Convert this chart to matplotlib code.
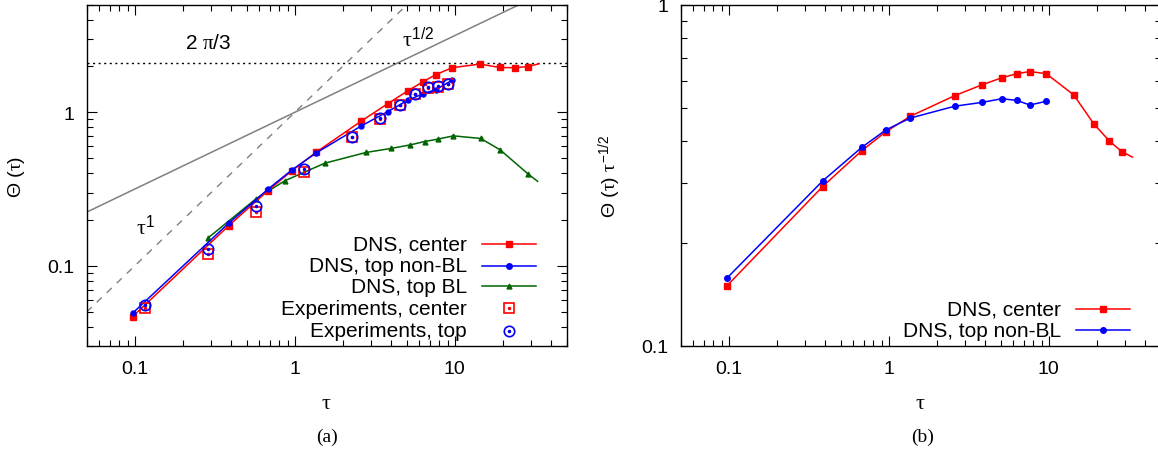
import numpy as np
import matplotlib
matplotlib.use("Agg")
import matplotlib.pyplot as plt
from matplotlib.ticker import LogLocator, FuncFormatter, NullFormatter

plt.rcParams['font.family'] = ['Liberation Sans', 'DejaVu Sans']
plt.rcParams['mathtext.fontset'] = 'custom'
plt.rcParams['mathtext.rm'] = 'Liberation Sans'
plt.rcParams['mathtext.it'] = 'Liberation Serif'
plt.rcParams['mathtext.bf'] = 'Liberation Sans:bold'

# DNS, center (last point is the curve end, no marker)
tau_center = [0.097, 0.385, 0.678, 0.958, 1.36, 2.58, 3.81, 5.08, 6.31, 7.6, 9.62,
              14.3, 19.1, 23.9, 28.7, 33.3]
theta_center = [0.0467, 0.182, 0.308, 0.416, 0.550, 0.871, 1.138, 1.379, 1.580, 1.759,
                1.951, 2.061, 1.958, 1.951, 1.987, 2.066]

# DNS, top non-BL
tau_top = [0.097, 0.385, 0.678, 0.958, 1.36, 2.58, 3.81, 5.08, 6.31, 7.6, 9.62]
theta_top = [0.0492, 0.189, 0.315, 0.421, 0.5435, 0.811, 1.011, 1.197, 1.319, 1.403, 1.619]

# DNS, top BL (last point is the curve end, no marker)
tau_bl = [0.285, 0.571, 0.866, 1.54, 2.78, 3.98, 5.26, 6.49, 7.8, 9.8, 14.5, 19.2, 28.7, 32.9]
theta_bl = [0.151, 0.273, 0.358, 0.466, 0.547, 0.581, 0.613, 0.645, 0.668, 0.702, 0.675,
            0.569, 0.396, 0.355]

# Experiments
tau_exp = [0.1155, 0.285, 0.571, 1.14, 2.27, 3.40, 4.53, 5.65, 6.75, 7.86, 9.08]
theta_exp_center = [0.0531, 0.1197, 0.2253, 0.4095, 0.691, 0.910, 1.11, 1.31, 1.446, 1.469, 1.52]
theta_exp_top = [0.0552, 0.129, 0.244, 0.4266, 0.695, 0.921, 1.118, 1.318, 1.464, 1.486, 1.53]

labels_a = ['DNS, center', 'DNS, top non-BL', 'DNS, top BL',
            'Experiments, center', 'Experiments, top']
labels_b = ['DNS, center', 'DNS, top non-BL']

tau_ref = np.array([0.05, 50.0])

RED = '#ff0000'
BLUE = '#0000ff'
GREEN = '#006400'
GREY = '#808080'

W, H = 1158, 452
fig = plt.figure(figsize=(W / 100, H / 100), dpi=100)
axa = fig.add_axes([86.7 / W, 105 / H, 480 / W, 341 / H])
axb = fig.add_axes([680.7 / W, 105 / H, 480 / W, 341 / H])


def style(ax):
    ax.set_xscale('log')
    ax.set_yscale('log')
    ax.xaxis.set_major_locator(LogLocator(base=10))
    ax.yaxis.set_major_locator(LogLocator(base=10))
    ax.xaxis.set_minor_locator(LogLocator(base=10, subs=np.arange(2, 10)))
    ax.yaxis.set_minor_locator(LogLocator(base=10, subs=np.arange(2, 10)))
    fmt = FuncFormatter(lambda v, p: '%g' % v)
    ax.xaxis.set_major_formatter(fmt)
    ax.yaxis.set_major_formatter(fmt)
    ax.xaxis.set_minor_formatter(NullFormatter())
    ax.yaxis.set_minor_formatter(NullFormatter())
    ax.tick_params(which='both', direction='in', top=True, right=True, labelsize=14,
                   width=0.8)
    ax.tick_params(which='major', length=7)
    ax.tick_params(which='minor', length=4)
    ax.tick_params(axis='x', pad=10)
    ax.tick_params(axis='y', pad=9)
    for s in ax.spines.values():
        s.set_linewidth(1.0)


def legend_row(ax, y, label, styles):
    # gnuplot-like key: right-aligned text, sample on the right
    ax.text(0.792, y, label, transform=ax.transAxes, fontsize=15,
            ha='right', va='center')
    for st in styles:
        if st.get('ls', '-') != 'none':
            ax.plot([0.823, 0.935], [y, y], transform=ax.transAxes, clip_on=False,
                    color=st['color'], lw=1.1)
        kw = {k: v for k, v in st.items() if k not in ('ls', 'color')}
        ax.plot([0.879], [y], transform=ax.transAxes, clip_on=False, ls='none',
                color=st['color'], **kw)


st_c = dict(color=RED, marker='s', ms=4.5)
st_t = dict(color=BLUE, marker='o', ms=4)
st_bl = dict(color=GREEN, marker='^', ms=3.5)
st_ec = [dict(color=RED, ls='none', marker='s', ms=7.5, mfc='none', mec=RED, mew=1.2),
         dict(color=RED, ls='none', marker='o', ms=1.5)]
st_et = [dict(color=BLUE, ls='none', marker='o', ms=7.5, mfc='none', mec=BLUE, mew=1.2),
         dict(color=BLUE, ls='none', marker='o', ms=1.5)]

# ---- (a)
ax = axa
style(ax)
ax.plot(tau_ref, tau_ref, color=GREY, lw=1.0, ls=(0, (5, 5)))
ax.plot(tau_ref, np.sqrt(tau_ref), color=GREY, lw=1.1)
ax.axhline(2 * np.pi / 3, color='black', lw=1.0, ls=(0, (1.5, 2.5)))

ax.plot(tau_bl, theta_bl, color=GREEN, lw=1.1, marker='^', ms=3.5,
        markevery=list(range(len(tau_bl) - 1)))
ax.plot(tau_center, theta_center, color=RED, lw=1.1, marker='s', ms=4,
        markevery=list(range(len(tau_center) - 1)))
ax.plot(tau_top, theta_top, color=BLUE, lw=1.1, marker='o', ms=3.6)
ax.plot(tau_exp, theta_exp_center, ls='none', marker='s', ms=7.5, mfc='none',
        mec=RED, mew=1.2)
ax.plot(tau_exp, theta_exp_center, ls='none', marker='o', ms=1.5, color=RED)
ax.plot(tau_exp, theta_exp_top, ls='none', marker='o', ms=7.5, mfc='none',
        mec=BLUE, mew=1.2)
ax.plot(tau_exp, theta_exp_top, ls='none', marker='o', ms=1.5, color=BLUE)

ax.set_xlim(0.05, 50)
ax.set_ylim(0.03, 5)
ax.text(0.286, 2.85, r'2 $\pi$/3', fontsize=15, ha='center', va='center')
ax.text(5.9, 3.05, r'$\tau^{1/2}$', fontsize=16, ha='center', va='center')
ax.text(0.117, 0.182, r'$\tau^{1}$', fontsize=16, ha='center', va='center')
ax.set_xlabel(r'$\tau$', fontsize=16, labelpad=11)
ax.set_ylabel(r'$\Theta$ ($\tau$)', fontsize=14)
ax.yaxis.set_label_coords(-0.125, 0.5)

rows_a = [0.299, 0.2355, 0.1751, 0.1106, 0.0449]
for y, lab, st in zip(rows_a, labels_a, [[st_c], [st_t], [st_bl], st_ec, st_et]):
    legend_row(ax, y, lab, st)

# ---- (b)
ax = axb
style(ax)
tc = np.array(tau_center)
tt = np.array(tau_top)
ax.plot(tc, np.array(theta_center) / np.sqrt(tc), color=RED, lw=1.1, marker='s',
        ms=4.5, markevery=list(range(len(tc) - 1)))
ax.plot(tt, np.array(theta_top) / np.sqrt(tt), color=BLUE, lw=1.1, marker='o', ms=4)
ax.set_xlim(0.05, 50)
ax.set_ylim(0.1, 1)
ax.set_xlabel(r'$\tau$', fontsize=16, labelpad=11)
ax.set_ylabel(r'$\Theta$ ($\tau$) $\tau^{-1/2}$', fontsize=14)
ax.yaxis.set_label_coords(-0.118, 0.5)

rows_b = [0.1085, 0.0469]
for y, lab, st in zip(rows_b, labels_b, [[st_c], [st_t]]):
    legend_row(ax, y, lab, st)

fig.text(327 / W, 1 - 437 / H, '(a)', fontsize=14, family='Liberation Serif',
         ha='center', va='center')
fig.text(923 / W, 1 - 437 / H, '(b)', fontsize=14, family='Liberation Serif',
         ha='center', va='center')

fig.savefig('out.png', dpi=100)
